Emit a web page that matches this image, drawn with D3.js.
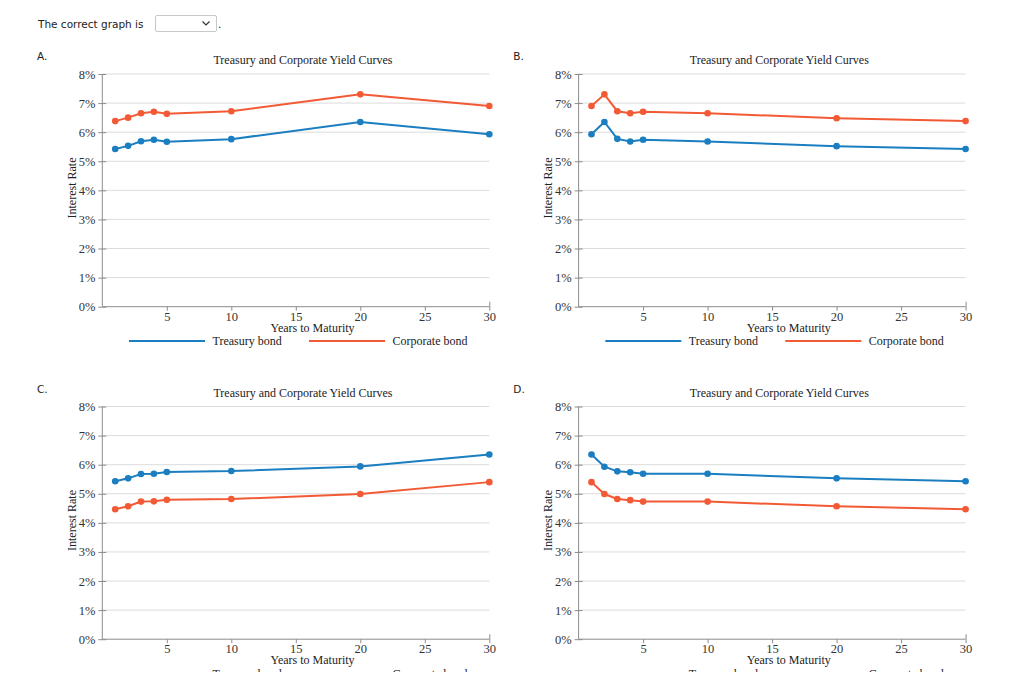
<!DOCTYPE html>
<html><head><meta charset="utf-8">
<script src="https://cdn.jsdelivr.net/npm/d3@7"></script>
<style>
html,body{margin:0;padding:0;background:#fff;overflow:hidden;}
svg{display:block;}
.tk text{font-family:'Liberation Serif','Times New Roman',serif !important;font-size:12.5px !important;fill:#333;}
</style></head>
<body>
<svg id="c" width="1024" height="672"></svg>
<script>
const years = [1, 2, 3, 4, 5, 10, 20, 30];
const xTicks = [5, 10, 15, 20, 25, 30];
const yTicks = [0, 1, 2, 3, 4, 5, 6, 7, 8];
const panelLetters = ["A.", "B.", "C.", "D."];
const treasuryA = [5.42, 5.53, 5.69, 5.74, 5.67, 5.76, 6.35, 5.93];
const corporateA = [6.38, 6.50, 6.65, 6.70, 6.63, 6.72, 7.30, 6.90];
const treasuryB = [5.93, 6.35, 5.77, 5.68, 5.74, 5.68, 5.52, 5.42];
const corporateB = [6.90, 7.30, 6.72, 6.65, 6.70, 6.65, 6.48, 6.38];
const treasuryC = [5.43, 5.53, 5.68, 5.69, 5.75, 5.78, 5.94, 6.35];
const corporateC = [4.47, 4.57, 4.73, 4.74, 4.79, 4.82, 4.99, 5.40];
const treasuryD = [6.35, 5.93, 5.77, 5.74, 5.69, 5.69, 5.53, 5.43];
const corporateD = [5.40, 4.99, 4.82, 4.78, 4.73, 4.73, 4.57, 4.47];
const seriesNames = ["Treasury bond", "Corporate bond"];
const titleText = "Treasury and Corporate Yield Curves";
const xLabel = "Years to Maturity";
const yLabel = "Interest Rate";
const promptText = "The correct graph is";

const panels = [
  {t: treasuryA, c: corporateA},
  {t: treasuryB, c: corporateB},
  {t: treasuryC, c: corporateC},
  {t: treasuryD, c: corporateD}
];
const BLUE = "#1b7ec0", RED = "#f25a35";
const svg = d3.select("#c");
const SERIF = "'Liberation Serif','Times New Roman',serif";
const SANS = "Verdana,'DejaVu Sans',sans-serif";

// header
svg.append("text").attr("x", 38).attr("y", 27.5).attr("font-family", SANS)
  .attr("font-size", 10.5).attr("fill", "#222").text(promptText);
svg.append("rect").attr("x", 155.5).attr("y", 15.5).attr("width", 61).attr("height", 16)
  .attr("fill", "#fff").attr("stroke", "#c8c8c8").attr("rx", 1.5);
svg.append("path").attr("d", "M202.5,21.5 L206,25 L209.5,21.5").attr("fill", "none")
  .attr("stroke", "#333").attr("stroke-width", 1.2);
svg.append("text").attr("x", 218).attr("y", 27.5).attr("font-family", SANS)
  .attr("font-size", 10.5).attr("fill", "#222").text(".");

panels.forEach((p, i) => {
  const ox = (i % 2) * 476.3;
  const oy = Math.floor(i / 2) * 332.5;
  const g = svg.append("g").attr("transform", `translate(${ox},${oy})`);
  const x = d3.scaleLinear().domain([0, 30]).range([102.3, 489.3]);
  const y = d3.scaleLinear().domain([0, 8]).range([306.7, 74]);

  g.append("text").attr("x", 37).attr("y", 60).attr("font-family", SANS)
    .attr("font-size", 10.5).attr("fill", "#222").text(panelLetters[i]);

  // grid
  g.append("g").selectAll("line").data(yTicks.slice(1)).join("line")
    .attr("x1", x(0)).attr("x2", x(30)).attr("y1", d => y(d)).attr("y2", d => y(d))
    .attr("stroke", "#dcdcdc").attr("stroke-width", 1);

  // y axis
  const ya = g.append("g").attr("class", "tk").attr("transform", `translate(${x(0)},0)`)
    .call(d3.axisLeft(y).tickValues(yTicks).tickFormat(d => d + "%").tickSize(4).tickPadding(3));
  ya.selectAll(".tick line").attr("x2", 4).attr("x1", -4);
  // x axis
  const xa = g.append("g").attr("class", "tk").attr("transform", `translate(0,${y(0)})`)
    .call(d3.axisBottom(x).tickValues(xTicks).tickSize(4).tickPadding(1));
  xa.selectAll(".tick").filter(d => d === 30).select("line").attr("y1", -5);
  [ya, xa].forEach(a => {
    a.attr("font-family", SERIF).attr("font-size", 12.5);
    a.selectAll(".tick line").attr("stroke", "#8c8c8c");
    a.selectAll(".domain").remove();
  });
  g.append("line").attr("x1", x(0)).attr("x2", x(0)).attr("y1", y(8)).attr("y2", y(0))
    .attr("stroke", "#8c8c8c");
  g.append("line").attr("x1", x(0)).attr("x2", x(30)).attr("y1", y(0)).attr("y2", y(0))
    .attr("stroke", "#8c8c8c");

  // titles
  g.append("text").attr("x", 303).attr("y", 64).attr("text-anchor", "middle")
    .attr("font-family", SERIF).attr("font-size", 12).attr("fill", "#222").text(titleText);
  g.append("text").attr("x", 312.5).attr("y", 331.5).attr("text-anchor", "middle")
    .attr("font-family", SERIF).attr("font-size", 12).attr("fill", "#222").text(xLabel);
  g.append("text").attr("transform", "translate(76,188) rotate(-90)").attr("text-anchor", "middle")
    .attr("font-family", SERIF).attr("font-size", 12).attr("fill", "#222").text(yLabel);

  // legend
  const leg = [{name: seriesNames[0], col: BLUE, x0: 129, tx: 212.5},
               {name: seriesNames[1], col: RED, x0: 309, tx: 392.5}];
  leg.forEach(l => {
    g.append("line").attr("x1", l.x0).attr("x2", l.x0 + 76).attr("y1", 341).attr("y2", 341)
      .attr("stroke", l.col).attr("stroke-width", 2);
    g.append("text").attr("x", l.tx).attr("y", 345).attr("font-family", SERIF)
      .attr("font-size", 12).attr("fill", "#222").text(l.name);
  });

  // series
  const line = d3.line().x((d, k) => x(years[k])).y(d => y(d));
  [[p.t, BLUE], [p.c, RED]].forEach(([vals, col]) => {
    g.append("path").datum(vals).attr("d", line).attr("fill", "none")
      .attr("stroke", col).attr("stroke-width", 2);
    g.append("g").selectAll("circle").data(vals).join("circle")
      .attr("cx", (d, k) => x(years[k])).attr("cy", d => y(d)).attr("r", 3.3).attr("fill", col);
  });
});
</script>
</body></html>
